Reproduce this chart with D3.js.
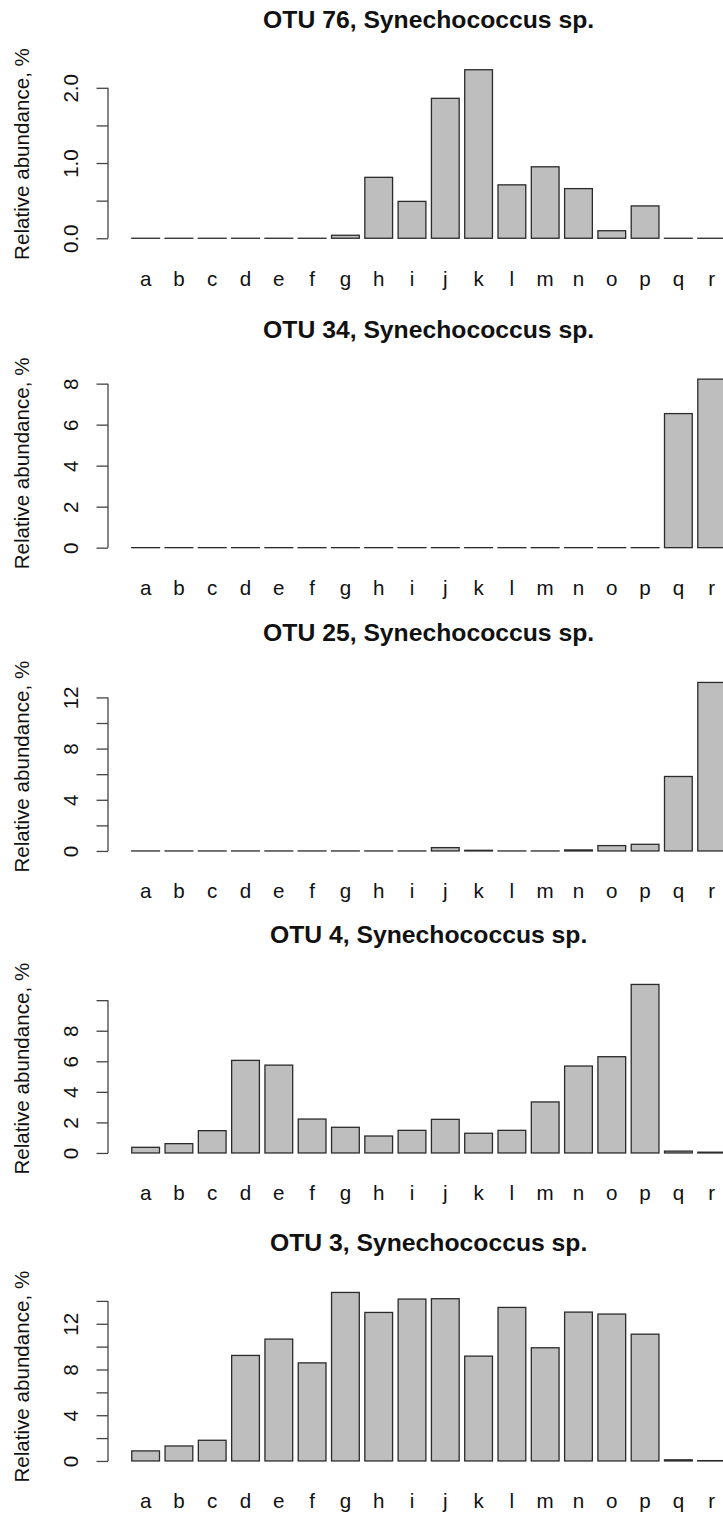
<!DOCTYPE html>
<html>
<head>
<meta charset="utf-8">
<script src="https://cdn.jsdelivr.net/npm/d3@7.9.0/dist/d3.min.js"></script>
<style>
  body { margin: 0; background: #fff; }
  svg { display: block; font-family: "Liberation Sans", Arial, sans-serif; }
</style>
</head>
<body>
<div id="chart"></div>
<script>
// sample labels
const categories = ['a','b','c','d','e','f','g','h','i','j','k','l','m','n','o','p','q','r'];

// relative abundance per OTU (%)
const otu76 = [0, 0, 0, 0, 0, 0, 0.04, 0.81, 0.49, 1.86, 2.24, 0.71, 0.95, 0.66, 0.10, 0.43, 0, 0];
const otu34 = [0, 0, 0, 0, 0, 0, 0, 0, 0, 0, 0, 0, 0, 0, 0, 0, 6.54, 8.22];
const otu25 = [0, 0, 0, 0, 0, 0, 0, 0, 0, 0.26, 0.05, 0, 0, 0.08, 0.42, 0.52, 5.82, 13.17];
const otu4  = [0.37, 0.61, 1.46, 6.06, 5.75, 2.22, 1.68, 1.11, 1.48, 2.20, 1.29, 1.48, 3.34, 5.69, 6.30, 11.03, 0.12, 0.05];
const otu3  = [0.88, 1.31, 1.81, 9.23, 10.66, 8.58, 14.74, 12.99, 14.16, 14.19, 9.17, 13.43, 9.90, 13.02, 12.85, 11.09, 0.10, 0.03];

// y ticks and the labels R kept (blank = tick without label)
const ticks76  = [0, 0.5, 1, 1.5, 2];
const labels76 = ['0.0', '', '1.0', '', '2.0'];
const ticks34  = [0, 2, 4, 6, 8];
const labels34 = ['0', '2', '4', '6', '8'];
const ticks25  = [0, 2, 4, 6, 8, 10, 12];
const labels25 = ['0', '', '4', '', '8', '', '12'];
const ticks4   = [0, 2, 4, 6, 8, 10];
const labels4  = ['0', '2', '4', '6', '8', ''];
const ticks3   = [0, 2, 4, 6, 8, 10, 12, 14];
const labels3  = ['0', '', '4', '', '8', '', '12', ''];

const titles = [
  'OTU 76, Synechococcus sp.',
  'OTU 34, Synechococcus sp.',
  'OTU 25, Synechococcus sp.',
  'OTU 4, Synechococcus sp.',
  'OTU 3, Synechococcus sp.'
];

const panels = [
  { title: titles[0], values: otu76, ticks: ticks76, labels: labels76, bottom: 245 },
  { title: titles[1], values: otu34, ticks: ticks34, labels: labels34, bottom: 554.4 },
  { title: titles[2], values: otu25, ticks: ticks25, labels: labels25, bottom: 857.7 },
  { title: titles[3], values: otu4,  ticks: ticks4,  labels: labels4,  bottom: 1159.7 },
  { title: titles[4], values: otu3,  ticks: ticks3,  labels: labels3,  bottom: 1467.7 }
];

const width = 723;
const height = 1515;
const plotLeft = 108;
const plotRight = 749.3;   // plot region runs past the picture edge
const plotHeight = 182;
const fontSize = 20.6;

const svg = d3.select('#chart')
  .append('svg')
    .attr('width', width)
    .attr('height', height);

// bar positions like R barplot: width 1, space 0.2, 4% padding
const x = d3.scaleBand()
  .domain(categories)
  .range([plotLeft, plotRight])
  .paddingInner(0.2 / 1.2)
  .paddingOuter(0.856 / 1.2);

panels.forEach(p => {
  const bottom = p.bottom;
  const top = bottom - plotHeight;
  const maxV = d3.max(p.values);

  const y = d3.scaleLinear()
    .domain([-0.04 * maxV, 1.04 * maxV])
    .range([bottom, top]);

  const g = svg.append('g');

  // title
  g.append('text')
    .attr('x', (plotLeft + plotRight) / 2)
    .attr('y', top - 34.7)
    .attr('text-anchor', 'middle')
    .attr('font-size', fontSize * 1.2)
    .attr('font-weight', 'bold')
    .attr('fill', '#111')
    .text(p.title);

  // bars (zero bars still show their border as a flat line)
  g.append('g')
    .selectAll('rect')
    .data(p.values)
    .join('rect')
      .attr('x', (d, i) => x(categories[i]))
      .attr('width', x.bandwidth())
      .attr('y', d => y(d))
      .attr('height', d => Math.max(y(0) - y(d), 0.01))
      .attr('fill', '#bebebe')
      .attr('stroke', '#2b2b2b')
      .attr('stroke-width', 1.3);

  // y axis
  const axis = g.append('g')
    .attr('transform', `translate(${plotLeft},0)`)
    .call(
      d3.axisLeft(y)
        .tickValues(p.ticks)
        .tickSize(11.5)
        .tickFormat((d, i) => p.labels[i])
    );
  axis.select('.domain').remove();
  axis.append('line')
    .attr('x1', 0).attr('x2', 0)
    .attr('y1', y(d3.min(p.ticks)))
    .attr('y2', y(d3.max(p.ticks)))
    .attr('stroke', '#444')
    .attr('stroke-width', 1.3);
  axis.selectAll('.tick line')
    .attr('stroke', '#444')
    .attr('stroke-width', 1.3);
  axis.selectAll('.tick text')
    .attr('transform', 'rotate(-90)')
    .attr('x', 0)
    .attr('y', -30.5)
    .attr('dy', null)
    .attr('text-anchor', 'middle')
    .attr('font-size', fontSize)
    .attr('font-family', '"Liberation Sans", Arial, sans-serif')
    .attr('fill', '#111');

  // y axis title
  g.append('text')
    .attr('transform', `translate(28.5,${(top + bottom) / 2}) rotate(-90)`)
    .attr('text-anchor', 'middle')
    .attr('font-size', fontSize)
    .attr('fill', '#111')
    .text('Relative abundance, %');

  // category labels
  g.append('g')
    .selectAll('text')
    .data(categories)
    .join('text')
      .attr('x', d => x(d) + x.bandwidth() / 2)
      .attr('y', bottom + 40.7)
      .attr('text-anchor', 'middle')
      .attr('font-size', fontSize)
      .attr('fill', '#111')
      .text(d => d);
});
</script>
</body>
</html>
